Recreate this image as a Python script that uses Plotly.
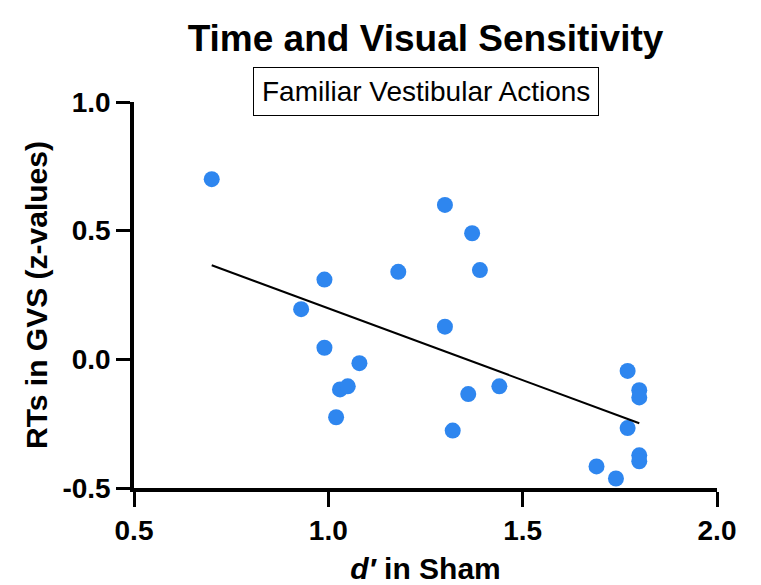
import numpy as np
import plotly.graph_objects as go

# d' in Sham (x) and RTs in GVS z-values (y)
d_prime = [0.70, 0.93, 0.99, 0.99, 1.08, 1.03, 1.05, 1.02,
           1.30, 1.37, 1.18, 1.39, 1.30, 1.36, 1.44, 1.32,
           1.77, 1.80, 1.80, 1.77, 1.80, 1.80, 1.69, 1.74]
rt_z = [0.70, 0.195, 0.31, 0.045, -0.015, -0.117, -0.105, -0.225,
        0.60, 0.49, 0.34, 0.347, 0.127, -0.135, -0.105, -0.277,
        -0.045, -0.12, -0.148, -0.267, -0.373, -0.396, -0.416, -0.463]

x_ticks = [0.5, 1.0, 1.5, 2.0]
y_ticks = [-0.5, 0.0, 0.5, 1.0]

slope, intercept = np.polyfit(d_prime, rt_z, 1)
fit_x = [min(d_prime), max(d_prime)]
fit_y = [slope * v + intercept for v in fit_x]

FONT = "Liberation Sans, Arial, sans-serif"

fig = go.Figure()
fig.add_trace(go.Scatter(x=d_prime, y=rt_z, mode="markers",
                         marker=dict(size=16, color="#2E86EF", line=dict(width=0)),
                         cliponaxis=False, showlegend=False))
fig.add_trace(go.Scatter(x=fit_x, y=fit_y, mode="lines",
                         line=dict(color="black", width=2), showlegend=False))

fig.update_layout(
    width=761, height=585,
    margin=dict(l=126, r=52, t=94, b=101),
    paper_bgcolor="white", plot_bgcolor="white",
    font=dict(family=FONT, color="black"),
    title=dict(text="<b>Time and Visual Sensitivity</b>", x=0.5, xref="paper",
               y=1 - 30 / 585, yanchor="middle", font=dict(size=37, family=FONT)),
    xaxis=dict(range=[0.5, 2.0], tickvals=x_ticks, ticktext=[f"{v:.1f}" for v in x_ticks],
               showgrid=False, zeroline=False, showline=True, linecolor="black", linewidth=3.5,
               ticks="outside", ticklen=15, tickwidth=3, tickcolor="black",
               tickfont=dict(size=28, family=FONT, weight="bold"),
               title=dict(text="<b><i>d′</i> in Sham</b>", font=dict(size=30, family=FONT), standoff=14)),
    yaxis=dict(range=[-0.5, 1.0], tickvals=y_ticks, ticktext=[f"{v:.1f}" for v in y_ticks],
               showgrid=False, zeroline=False, showline=True, linecolor="black", linewidth=3.5,
               ticks="outside", ticklen=14, tickwidth=3, tickcolor="black",
               tickfont=dict(size=28, family=FONT, weight="bold"),
               title=dict(text="<b>RTs in GVS (z-values)</b>", font=dict(size=30, family=FONT), standoff=7)),
    annotations=[dict(text="Familiar Vestibular Actions", xref="paper", yref="paper",
                      x=0.5, y=1, yanchor="middle", yshift=11, showarrow=False,
                      font=dict(size=28, family=FONT), bordercolor="black", borderwidth=1,
                      borderpad=8, bgcolor="white")],
)

fig.write_html("out.html")
